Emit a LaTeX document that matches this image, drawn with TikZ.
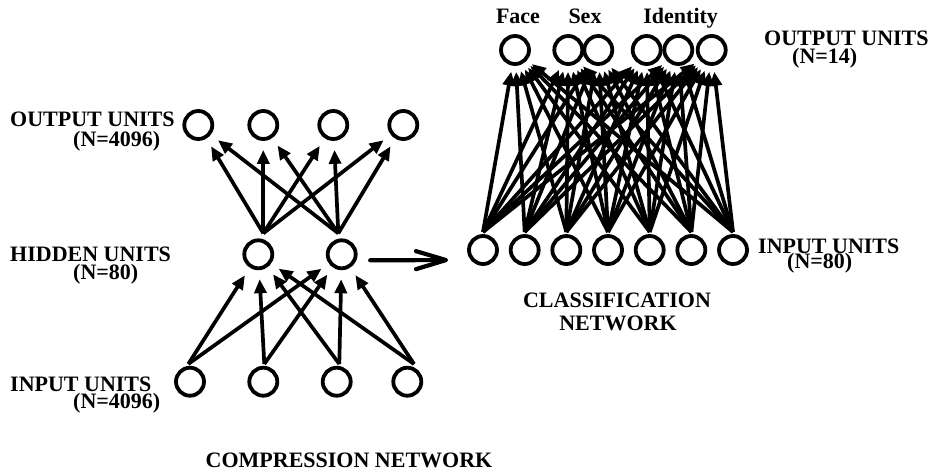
\documentclass[tikz,border=0pt]{standalone}
\usepackage{fontspec}
\setmainfont{Liberation Serif}
\usetikzlibrary{arrows.meta,calc}
\begin{document}
\begin{tikzpicture}[x=1pt,y=-1pt]
\tikzset{
  unit/.style={circle,draw,line width=3.8pt,minimum size=28pt,inner sep=0pt},
  lbl/.style={inner sep=0pt,font=\fontsize{22}{24}\selectfont\bfseries},
  conn/.style={line width=3.7pt,-{Triangle[length=14pt,width=12pt]},shorten >=9pt},
  handoff/.style={line width=4.2pt,line cap=round,-{Straight Barb[length=30pt,width=18pt,round]}},
}
\useasboundingbox (0,0) rectangle (928,472);

% ---- compression network ----
\foreach \n/\x in {1/198.3,2/263.3,3/333.3,4/403.3}
  \node[unit] (lo\n) at (\x,125) {};
\node[unit] (lh1) at (258.3,254.3) {};
\node[unit] (lh2) at (341.7,254.3) {};
\foreach \n/\x in {1/190,2/263.3,3/336.7,4/407.3}
  \node[unit] (li\n) at (\x,381.7) {};

% ports where the fan-out arrows leave each unit
\coordinate (lhs1) at (263.3,233.3);
\coordinate (lhs2) at (338.3,233.3);
\foreach \n/\x in {1/188.3,2/264.3,3/339.3,4/414}
  \coordinate (lis\n) at (\x,364);

\foreach \h in {1,2}
  \foreach \o in {1,...,4}
    \draw[conn] (lhs\h) -- (lo\o);
\foreach \i in {1,...,4}
  \foreach \h in {1,2}
    \draw[conn] (lis\i) -- (lh\h);

\node[lbl,anchor=base west] (lot) at (10,126) {OUTPUT UNITS};
\node[lbl,anchor=base west] (lon) at (73,146.5) {(N=4096)};
\node[lbl,anchor=base west] (lht) at (10,261) {HIDDEN UNITS};
\node[lbl,anchor=base west] (lhn) at (73,279) {(N=80)};
\node[lbl,anchor=base west] (lit) at (10,391.5) {INPUT UNITS};
\node[lbl,anchor=base west] (lin) at (73,408) {(N=4096)};
\node[lbl,anchor=base] (ltitle) at (349,467) {COMPRESSION NETWORK};

% ---- classification network ----
\foreach \k in {1,...,7}{
  \pgfmathsetmacro\xx{483+41.67*(\k-1)}
  \node[unit] (ri\k) at (\xx,250) {};
  \coordinate (ris\k) at (\xx,232);
}
\foreach \n/\x in {1/515,2/568.3,3/598.3,4/646.7,5/678.3,6/711.7}
  \node[unit] (ro\n) at (\x,50) {};

\foreach \i in {1,...,7}
  \foreach \o in {1,...,6}
    \draw[conn,shorten >=6pt] (ris\i) -- (ro\o);

\node[lbl,anchor=base] (face) at (518,23.3) {Face};
\node[lbl,anchor=base] (sex) at (585,23.3) {Sex};
\node[lbl,anchor=base] (ident) at (680.7,23.3) {Identity};
\node[lbl,anchor=base west] (rot) at (764,45) {OUTPUT UNITS};
\node[lbl,anchor=base west] (ron) at (792,63) {(N=14)};
\node[lbl,anchor=base west] (rit) at (758,253) {INPUT UNITS};
\node[lbl,anchor=base west] (rin) at (787,268.5) {(N=80)};
\node[lbl,anchor=base] (rt1) at (617,307) {CLASSIFICATION};
\node[lbl,anchor=base] (rt2) at (618,330) {NETWORK};

% hidden code handed on to the classifier
\draw[handoff,shorten <=12.6pt,shorten >=19pt] ([yshift=-6pt]lh2.east) -- ([yshift=-10pt]ri1.west);
\end{tikzpicture}
\end{document}
